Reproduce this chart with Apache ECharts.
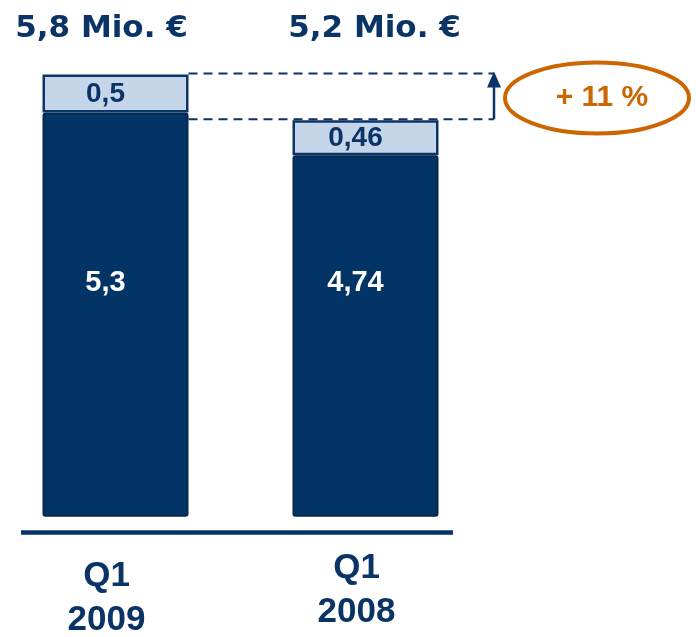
<!DOCTYPE html>
<html>
<head>
<meta charset="utf-8">
<script src="https://cdn.jsdelivr.net/npm/echarts@6/dist/echarts.min.js"></script>
<style>
html, body { margin: 0; padding: 0; background: #fff; }
#container { width: 696px; height: 637px; }
</style>
</head>
<body>
<div id="container"></div>
<script>
// values in Mio. €
var categories = ['Q1\n2009', 'Q1\n2008'];
var baseValues = [5.3, 4.74];
var topValues = [0.5, 0.46];
var growthLabel = '+ 11 %';

var navy = '#0a3366';
var orange = '#cc6600';

function fmt(v) {
    return String(v).replace('.', ',');
}

var chart = echarts.init(document.getElementById('container'), null, { renderer: 'canvas' });

chart.setOption({
    animation: false,
    grid: { left: -9.5, width: 500, top: 21, bottom: 105, containLabel: false, outerBoundsMode: 'none' },
    xAxis: {
        type: 'category',
        data: categories.map(function (c, i) {
            // the first label sits a bit lower in the original
            return i === 0 ? { value: c, textStyle: { padding: [8, 18, 0, 0] } } : c;
        }),
        axisLine: { show: false },
        axisTick: { show: false },
        axisLabel: {
            interval: 0,
            margin: 14,
            padding: [0, 18, 0, 0],
            color: navy,
            fontFamily: 'Liberation Sans',
            fontWeight: 'bold',
            fontSize: 35,
            lineHeight: 44
        }
    },
    yAxis: { type: 'value', min: -0.2, max: 6.5, show: false },
    series: [{
        type: 'bar',
        stack: 'total',
        barWidth: 146,
        data: baseValues,
        itemStyle: { color: '#033466', borderColor: '#05264e', borderWidth: 2, borderRadius: 2 },
        label: {
            show: true,
            position: 'insideBottom',
            distance: 219,
            offset: [-10, 0],
            color: '#fff',
            fontFamily: 'Liberation Sans',
            fontWeight: 'bold',
            fontSize: 29,
            lineHeight: 30,
            formatter: function (p) { return fmt(p.value); }
        }
    }, {
        type: 'bar',
        stack: 'total',
        barWidth: 146,
        data: topValues,
        itemStyle: { color: '#c6d6ea', borderColor: '#0c3566', borderWidth: 2.5 },
        label: {
            show: true,
            position: 'inside',
            offset: [-10, 1],
            color: navy,
            fontFamily: 'Liberation Sans',
            fontWeight: 'bold',
            fontSize: 28,
            formatter: function (p) { return fmt(p.value); }
        }
    }]
});

// annotations placed from the chart's own scale
var graphics = [];
var tops = [];
var titleShift = [-14, 9];
categories.forEach(function (c, i) {
    var total = +(baseValues[i] + topValues[i]).toFixed(1);
    var p = chart.convertToPixel({ gridIndex: 0 }, [i, total]);
    tops.push(p);
    graphics.push({
        type: 'text',
        x: p[0] + titleShift[i],
        y: 29,
        style: {
            text: fmt(total) + ' Mio. €',
            fill: navy,
            font: 'bold 31px "DejaVu Sans"',
            textAlign: 'center',
            textVerticalAlign: 'middle'
        }
    });
});

var base = chart.convertToPixel({ gridIndex: 0 }, [0, -0.2]);
graphics.push({
    type: 'line',
    shape: { x1: 21, y1: base[1] + 0.5, x2: 453, y2: base[1] + 0.5 },
    style: { stroke: navy, lineWidth: 4.5 }
});

var arrowX = 494;
var dashStart = tops[0][0] + 73;
tops.forEach(function (p) {
    graphics.push({
        type: 'line',
        z: 10,
        shape: { x1: dashStart, y1: p[1] - 1, x2: arrowX, y2: p[1] - 1 },
        style: { stroke: navy, lineWidth: 2, lineDash: [9, 6] }
    });
});
graphics.push({
    type: 'line',
    z: 10,
    shape: { x1: arrowX, y1: tops[1][1] - 1, x2: arrowX, y2: tops[0][1] + 10 },
    style: { stroke: navy, lineWidth: 2.5 }
});
graphics.push({
    type: 'polygon',
    z: 10,
    shape: { points: [[arrowX, tops[0][1] - 3], [arrowX - 7, tops[0][1] + 13], [arrowX + 7, tops[0][1] + 13]] },
    style: { fill: navy }
});
graphics.push({
    type: 'ellipse',
    shape: { cx: 597, cy: 98, rx: 92, ry: 35.5 },
    style: { fill: 'none', stroke: orange, lineWidth: 4 }
});
graphics.push({
    type: 'text',
    x: 602,
    y: 98,
    style: {
        text: growthLabel,
        fill: orange,
        font: 'bold 30px "Liberation Sans"',
        textAlign: 'center',
        textVerticalAlign: 'middle'
    }
});

chart.setOption({ graphic: graphics });
window.addEventListener('resize', chart.resize);
</script>
</body>
</html>
